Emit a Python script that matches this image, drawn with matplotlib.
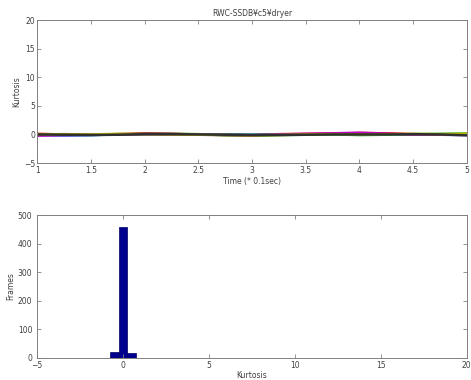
import matplotlib.pyplot as plt
import numpy as np

# time axis (x 0.1 sec)
t = [1.0, 1.25, 1.5, 1.75, 2.0, 2.25, 2.5, 2.75, 3.0, 3.25, 3.5, 3.75, 4.0, 4.25, 4.5, 4.75, 5.0]

# kurtosis per channel (all close to zero)
k_blue = [-0.1, -0.15, -0.1, 0.0, 0.1, 0.05, 0.0, -0.05, -0.1, -0.05, 0.0, 0.05, 0.1, 0.05, 0.0, -0.05, -0.1]
k_green = [0.0, 0.05, 0.0, 0.05, 0.1, 0.1, 0.05, -0.15, -0.2, -0.1, -0.05, 0.0, -0.1, -0.05, 0.05, 0.1, 0.15]
k_red = [0.1, 0.0, -0.05, 0.05, 0.15, 0.1, 0.0, -0.05, -0.1, 0.05, 0.1, 0.15, 0.25, 0.2, 0.05, 0.0, 0.05]
k_cyan = [-0.05, -0.1, -0.1, 0.0, 0.05, 0.05, 0.0, 0.0, -0.05, 0.0, -0.05, 0.0, 0.05, 0.0, 0.05, 0.0, -0.05]
k_magenta = [-0.2, -0.1, -0.05, 0.0, 0.05, 0.0, -0.05, -0.1, -0.15, 0.0, 0.1, 0.2, 0.3, 0.15, 0.0, -0.05, 0.0]
k_yellow = [0.05, 0.0, 0.0, 0.1, 0.05, 0.0, -0.05, -0.1, -0.15, -0.1, 0.0, 0.05, 0.0, 0.05, 0.1, 0.05, 0.1]
k_black = [0.0, -0.05, -0.1, -0.05, 0.05, 0.05, 0.0, -0.05, -0.1, -0.1, -0.05, 0.0, 0.0, 0.0, 0.05, 0.0, -0.15]

series = [k_blue, k_green, k_red, k_cyan, k_magenta, k_yellow, k_black]
colors = ['#0000ff', '#00a000', '#ff0000', '#00bfbf', '#bf00bf', '#bfbf00', '#303030']

# histogram of kurtosis values
bin_centers = [-0.5, 0.0, 0.5]
bin_counts = [22, 457, 19]

fig = plt.figure(figsize=(4.71, 3.80), dpi=100)
fs = 5.5
gray = '#808080'

ax1 = fig.add_axes([0.079, 0.571, 0.912, 0.376])
for s, c in zip(series, colors):
    ax1.plot(t, s, color=c, linewidth=1.8)
ax1.set_xlim(1, 5)
ax1.set_ylim(-5, 20)
ax1.set_xticks([1, 1.5, 2, 2.5, 3, 3.5, 4, 4.5, 5])
ax1.set_xticklabels(['1', '1.5', '2', '2.5', '3', '3.5', '4', '4.5', '5'])
ax1.set_yticks([-5, 0, 5, 10, 15, 20])
ax1.set_title('RWC-SSDB¥c5¥dryer', fontsize=fs, pad=3, color='#404040')
ax1.set_xlabel('Time (* 0.1sec)', fontsize=fs, labelpad=1, color='#404040')
ax1.set_ylabel('Kurtosis', fontsize=fs, labelpad=2, color='#404040')

ax2 = fig.add_axes([0.079, 0.058, 0.912, 0.376])
ax2.bar(bin_centers, bin_counts, width=0.5, color='#00008f', edgecolor='#000060', linewidth=0.5)
ax2.set_xlim(-5, 20)
ax2.set_ylim(0, 500)
ax2.set_xticks([-5, 0, 5, 10, 15, 20])
ax2.set_yticks([0, 100, 200, 300, 400, 500])
ax2.set_xlabel('Kurtosis', fontsize=fs, labelpad=0.5, color='#404040')
ax2.set_ylabel('Frames', fontsize=fs, labelpad=1.5, color='#404040')

for ax in (ax1, ax2):
    ax.tick_params(direction='in', top=True, right=True, labelsize=fs, length=3,
                   width=0.6, colors=gray, labelcolor='#404040', pad=1.5)
    ax.tick_params(axis='x', pad=2.5)
    for sp in ax.spines.values():
        sp.set_color(gray)
        sp.set_linewidth(0.7)
ax2.tick_params(axis='y', pad=3.5)

fig.savefig('out.png', dpi=100)
